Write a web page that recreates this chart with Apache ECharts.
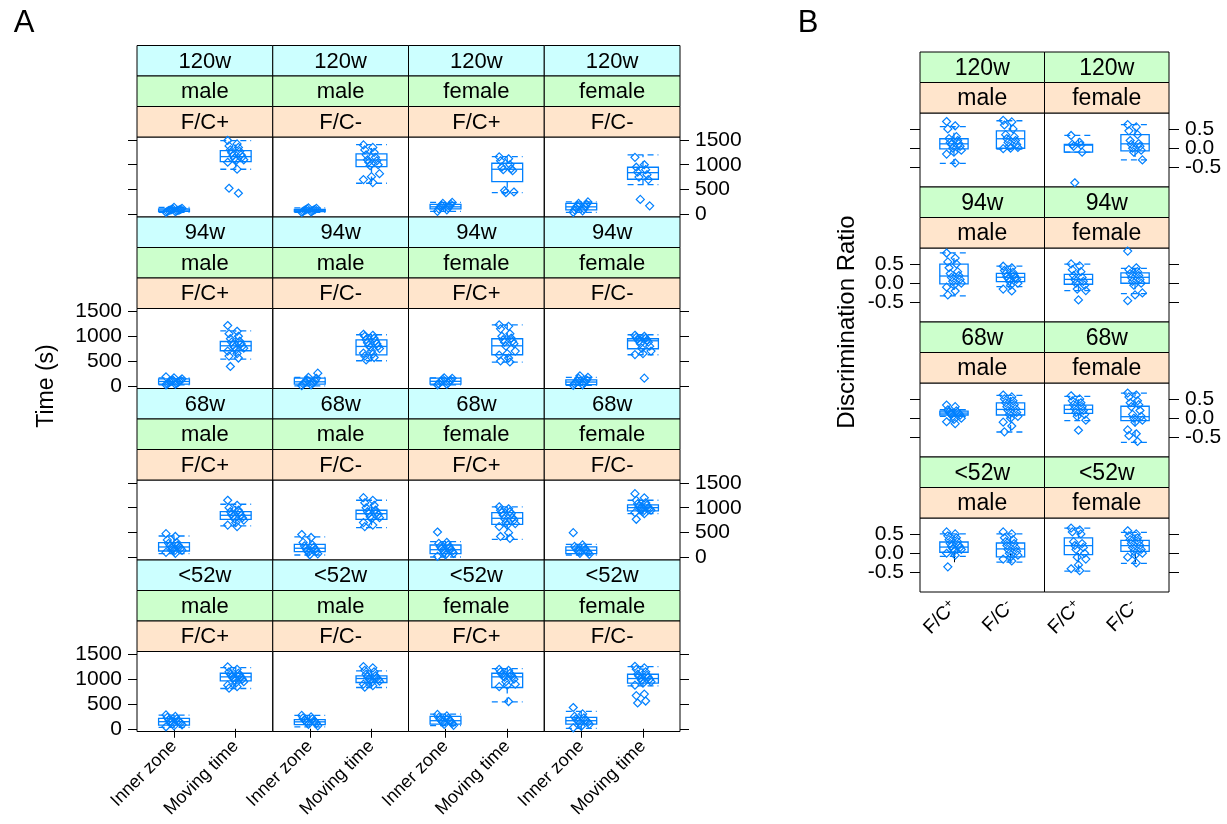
<!DOCTYPE html>
<html>
<head>
<meta charset="utf-8">
<script src="https://cdn.jsdelivr.net/npm/echarts@6/dist/echarts.min.js"></script>
<style>
  html, body { margin: 0; padding: 0; background: #fff; }
  #chart { width: 1227px; height: 824px; }
</style>
</head>
<body>
<div id="chart"></div>
<script>
// ---------------- Panel A: time in the inner zone and moving time ----------------
const ageRows = ['120w', '94w', '68w', '<52w'];
const timeSex = ['male', 'male', 'female', 'female'];
const timeCond = ['F/C+', 'F/C-', 'F/C+', 'F/C-'];
const timeMeasures = ['Inner zone', 'Moving time'];
const timeTicks = [0, 500, 1000, 1500];

// box statistics: [lower whisker, Q1, median, Q3, upper whisker], one entry per column
const box120wInner = [[40, 60, 85, 110, 140], [40, 55, 80, 100, 130], [60, 110, 150, 200, 240], [40, 90, 150, 220, 250]];
const box120wMoving = [[909, 1063, 1164, 1285, 1487], [626, 962, 1097, 1218, 1406], [437, 659, 909, 1030, 1164], [600, 707, 840, 949, 1198]];
const box94wInner = [[20, 32, 87, 141, 160], [0, 32, 80, 153, 170], [20, 32, 90, 153, 160], [10, 22, 75, 120, 170]];
const box94wMoving = [[538, 707, 807, 894, 1110], [505, 625, 794, 928, 1030], [477, 626, 807, 949, 1231], [626, 747, 908, 949, 1030]];
const box68wInner = [[73, 127, 208, 295, 430], [46, 113, 182, 262, 410], [6, 73, 153, 248, 315], [46, 73, 141, 208, 262]];
const box68wMoving = [[632, 767, 848, 921, 1070], [598, 767, 880, 949, 1151], [363, 666, 787, 900, 1016], [880, 935, 1002, 1056, 1151]];
const box52wInner = [[28, 75, 143, 209, 276], [40, 82, 140, 183, 270], [62, 95, 163, 249, 296], [8, 95, 163, 229, 350]];
const box52wMoving = [[813, 968, 1048, 1121, 1235], [833, 934, 1014, 1068, 1169], [545, 833, 1048, 1121, 1215], [867, 920, 1014, 1101, 1255]];

// individual animals (seconds)
const pts120wInner = [
  [40, 55, 60, 70, 75, 80, 85, 90, 95, 100, 110, 120, 140],
  [40, 50, 60, 70, 80, 85, 90, 100, 110, 120, 130],
  [60, 90, 110, 130, 150, 160, 180, 200, 220, 240],
  [40, 70, 90, 110, 130, 150, 170, 200, 220, 250]];
const pts120wMoving = [
  [1490, 1420, 1380, 1350, 1300, 1270, 1240, 1200, 1180, 1160, 1130, 1100, 1080, 1050, 910, 525, 424],
  [1400, 1350, 1300, 1250, 1200, 1150, 1100, 1080, 1050, 1000, 980, 820, 760, 700, 640],
  [1160, 1120, 1080, 1000, 950, 920, 900, 880, 480, 450, 437],
  [1150, 1000, 950, 900, 850, 800, 750, 700, 300, 170]];
const pts94wInner = [
  [20, 30, 40, 50, 60, 70, 80, 90, 100, 110, 120, 140, 160, 180],
  [0, 20, 40, 50, 60, 70, 80, 100, 120, 150, 170, 255],
  [20, 30, 40, 60, 80, 90, 100, 110, 130, 150, 160],
  [10, 20, 40, 60, 70, 80, 100, 120, 150, 170, 200]];
const pts94wMoving = [
  [1217, 1100, 1050, 1000, 950, 900, 880, 850, 820, 800, 780, 760, 720, 700, 650, 600, 560, 390],
  [1040, 1020, 1000, 960, 930, 900, 870, 850, 820, 800, 780, 750, 700, 660, 640, 600, 570, 520],
  [1230, 1200, 1150, 1050, 1000, 960, 930, 900, 880, 850, 800, 700, 650, 620, 560, 500, 480],
  [1020, 1000, 980, 960, 940, 920, 900, 880, 850, 800, 760, 700, 650, 630, 154]];
const pts68wInner = [
  [477, 420, 350, 300, 280, 250, 230, 210, 200, 180, 160, 140, 120, 100, 80],
  [460, 400, 300, 250, 230, 200, 180, 160, 140, 120, 100, 70, 50],
  [510, 300, 280, 250, 220, 200, 180, 160, 140, 120, 100, 80, 50, 20],
  [497, 250, 220, 200, 180, 160, 140, 130, 120, 100, 80, 60]];
const pts68wMoving = [
  [1151, 1050, 1000, 950, 920, 900, 870, 850, 830, 800, 780, 750, 700, 650, 620],
  [1204, 1150, 1100, 1050, 1000, 950, 920, 900, 880, 860, 820, 800, 780, 700, 650, 620],
  [1020, 980, 950, 920, 900, 880, 850, 800, 780, 750, 700, 680, 650, 620, 497, 420, 380],
  [1284, 1200, 1150, 1100, 1080, 1050, 1030, 1000, 990, 980, 960, 950, 920, 900, 880, 767]];
const pts52wInner = [
  [280, 250, 230, 200, 180, 160, 150, 140, 130, 120, 100, 80, 60, 40],
  [270, 240, 220, 200, 180, 160, 150, 140, 130, 110, 90, 60],
  [290, 260, 230, 210, 190, 170, 160, 150, 130, 110, 90, 70],
  [430, 300, 250, 220, 200, 180, 170, 160, 150, 130, 110, 90, 50, 20]];
const pts52wMoving = [
  [1250, 1200, 1150, 1120, 1100, 1080, 1060, 1040, 1020, 1000, 980, 950, 920, 880, 850, 820],
  [1255, 1230, 1180, 1150, 1100, 1070, 1050, 1030, 1010, 1000, 980, 960, 930, 900, 870, 840],
  [1200, 1180, 1150, 1120, 1100, 1080, 1060, 1050, 1040, 1000, 950, 900, 880, 850, 550],
  [1260, 1230, 1200, 1150, 1100, 1080, 1060, 1040, 1020, 1000, 980, 950, 920, 880, 700, 670, 560, 520]];

// ---------------- Panel B: discrimination ratio ----------------
const ratioSex = ['male', 'female'];
const ratioCond = ['F/C+', 'F/C-'];
const ratioTicks = [-0.5, 0, 0.5];

// [lower whisker, Q1, median, Q3, upper whisker]; per sex: [F/C+, F/C-]
const box120wRatio = [[[-0.39, -0.016, 0.114, 0.245, 0.56], [-0.02, 0.0, 0.245, 0.45, 0.71]],
                      [[-0.1, -0.1, 0.08, 0.1, 0.33], [-0.3, -0.07, 0.114, 0.35, 0.61]]];
const box94wRatio = [[[-0.326, -0.017, 0.187, 0.495, 0.785], [-0.087, 0.04, 0.154, 0.257, 0.44]],
                     [[-0.19, -0.026, 0.1, 0.23, 0.495], [-0.27, 0.0, 0.154, 0.27, 0.385]]];
const box68wRatio = [[[0.05, 0.084, 0.134, 0.185, 0.22], [-0.355, 0.084, 0.228, 0.395, 0.59]],
                     [[-0.06, 0.126, 0.228, 0.337, 0.565], [-0.62, -0.06, 0.04, 0.31, 0.65]]];
const box52wRatio = [[[-0.08, 0.026, 0.16, 0.29, 0.5], [-0.23, -0.094, 0.112, 0.265, 0.5]],
                     [[-0.46, -0.034, 0.197, 0.395, 0.65], [-0.26, 0.05, 0.197, 0.335, 0.54]]];

const pts120wRatio = [
  [[0.69, 0.58, 0.5, 0.3, 0.25, 0.2, 0.15, 0.12, 0.1, 0.05, 0.0, -0.05, -0.1, -0.15, -0.38],
   [0.72, 0.68, 0.6, 0.5, 0.35, 0.3, 0.25, 0.2, 0.15, 0.1, 0.05, 0.02, 0.0, -0.01]],
  [[0.33, 0.15, 0.1, 0.08, 0.05, -0.1, -0.89],
   [0.61, 0.55, 0.45, 0.35, 0.2, 0.12, 0.1, 0.05, 0.0, -0.05, -0.1, -0.3]]];
const pts94wRatio = [
  [[0.78, 0.65, 0.55, 0.5, 0.4, 0.3, 0.25, 0.2, 0.15, 0.1, 0.05, 0.0, -0.05, -0.1, -0.2, -0.3],
   [0.44, 0.4, 0.33, 0.28, 0.25, 0.2, 0.18, 0.15, 0.12, 0.1, 0.05, 0.0, -0.05, -0.15, -0.2]],
  [[0.5, 0.45, 0.35, 0.3, 0.2, 0.15, 0.1, 0.05, 0.0, -0.05, -0.15, -0.19, -0.43],
   [0.83, 0.4, 0.35, 0.3, 0.25, 0.2, 0.15, 0.1, 0.05, 0.0, -0.05, -0.25, -0.3, -0.45]]];
const pts68wRatio = [
  [[0.34, 0.3, 0.22, 0.19, 0.16, 0.15, 0.13, 0.12, 0.1, 0.08, 0.05, 0.0, -0.03, -0.09, -0.14],
   [0.6, 0.55, 0.5, 0.45, 0.4, 0.35, 0.3, 0.25, 0.2, 0.15, 0.1, 0.05, 0.0, -0.1, -0.2, -0.35]],
  [[0.58, 0.5, 0.45, 0.4, 0.35, 0.3, 0.25, 0.2, 0.15, 0.1, 0.05, -0.05, -0.31],
   [0.65, 0.6, 0.55, 0.45, 0.4, 0.35, 0.3, 0.2, 0.1, 0.05, 0.0, -0.05, -0.1, -0.3, -0.4, -0.45, -0.6]]];
const pts52wRatio = [
  [[0.55, 0.5, 0.45, 0.4, 0.35, 0.3, 0.25, 0.2, 0.18, 0.15, 0.12, 0.1, 0.05, 0.0, -0.05, -0.35],
   [0.55, 0.5, 0.4, 0.35, 0.3, 0.25, 0.2, 0.15, 0.1, 0.05, 0.0, -0.05, -0.1, -0.15, -0.2]],
  [[0.65, 0.6, 0.55, 0.5, 0.3, 0.25, 0.2, 0.15, 0.1, 0.0, -0.1, -0.15, -0.3, -0.4, -0.45],
   [0.58, 0.5, 0.45, 0.4, 0.35, 0.3, 0.25, 0.2, 0.15, 0.1, 0.05, 0.0, -0.05, -0.1, -0.25]]];

// ---------------- drawing ----------------
const FONT = '"Liberation Sans", Arial, Helvetica, sans-serif';
const BLUE = '#0080ff';
const STRIP_AGE = '#ccffff', STRIP_SEX = '#ccffcc', STRIP_COND = '#ffe5cc';

const timeBoxes = [[box120wInner, box120wMoving], [box94wInner, box94wMoving], [box68wInner, box68wMoving], [box52wInner, box52wMoving]];
const timePts = [[pts120wInner, pts120wMoving], [pts94wInner, pts94wMoving], [pts68wInner, pts68wMoving], [pts52wInner, pts52wMoving]];
const ratioBoxes = [box120wRatio, box94wRatio, box68wRatio, box52wRatio];
const ratioPts = [pts120wRatio, pts94wRatio, pts68wRatio, pts52wRatio];

const grids = [], xAxes = [], yAxes = [], series = [], graphics = [];

// small deterministic horizontal spread so overlapping animals stay visible
function jitter(i) { return (((i * 7) % 13) - 6) / 6 * 0.13; }

function renderBox(params, api) {
  const x = api.value(0);
  const lo = api.value(1), q1 = api.value(2), md = api.value(3), q3 = api.value(4), hi = api.value(5);
  const h = 0.25;
  const tl = api.coord([x - h, q3]), br = api.coord([x + h, q1]);
  const line = (a, b, dashed) => ({
    type: 'line',
    shape: { x1: a[0], y1: a[1], x2: b[0], y2: b[1] },
    style: { stroke: BLUE, lineWidth: 1.3, lineDash: dashed ? [6, 4] : null }
  });
  return {
    type: 'group',
    children: [
      { type: 'rect', shape: { x: tl[0], y: tl[1], width: br[0] - tl[0], height: br[1] - tl[1] },
        style: { fill: 'none', stroke: BLUE, lineWidth: 1.3 } },
      line(api.coord([x - h, md]), api.coord([x + h, md]), false),
      line(api.coord([x, q3]), api.coord([x, hi]), true),
      line(api.coord([x, q1]), api.coord([x, lo]), true),
      line(api.coord([x - h, hi]), api.coord([x + h, hi]), true),
      line(api.coord([x - h, lo]), api.coord([x + h, lo]), true)
    ]
  };
}

function yAxisFor(i, p, labelValues, withTicks) {
  return {
    gridIndex: i, type: 'value', min: p.ymin, max: p.ymax,
    show: !!p.yPos, position: p.yPos || 'left', offset: 0,
    axisLine: { show: false }, splitLine: { show: false },
    axisTick: { show: !!p.yPos && withTicks, customValues: p.ticks, length: p.tickLen, lineStyle: { color: '#000' } },
    axisLabel: { show: !!p.yLabels, customValues: labelValues, formatter: p.yFormatter, hideOverlap: false,
      showMinLabel: true, showMaxLabel: true,
      margin: p.yMargin, fontSize: 21, fontFamily: FONT, color: '#000' }
  };
}

function addPanel(p) {
  const i = grids.length;
  grids.push({ left: p.left, top: p.top, width: p.width, height: p.height, show: true,
    borderColor: '#000', borderWidth: 1, backgroundColor: 'transparent', containLabel: false });
  const xi = xAxes.length;
  xAxes.push({
    gridIndex: i, type: 'value', min: 0.4, max: 2.6,
    axisLine: { show: false }, splitLine: { show: false },
    axisTick: { show: p.showX, customValues: [1, 2], length: 9, lineStyle: { color: '#000' } },
    axisLabel: { show: p.showX, customValues: [1, 2], rotate: 45, margin: 12, hideOverlap: false,
      formatter: p.xFormatter, rich: p.xRich,
      fontSize: p.xFontSize, fontFamily: FONT, color: '#000' }
  });
  const yi = yAxes.length;
  // tightly spaced labels are split over two coincident axes so none of them gets dropped
  const groups = p.labelGroups || [p.ticks];
  groups.forEach((vals, g) => yAxes.push(yAxisFor(i, p, vals, g === 0)));
  series.push({
    type: 'custom', xAxisIndex: xi, yAxisIndex: yi, renderItem: renderBox, silent: true, z: 3,
    data: p.boxes.map((b, g) => [g + 1].concat(b))
  });
  const pts = [];
  p.points.forEach((arr, g) => arr.forEach((v, k) => pts.push([g + 1 + jitter(k), v])));
  series.push({
    type: 'scatter', xAxisIndex: xi, yAxisIndex: yi, data: pts, silent: true, z: 4,
    symbol: 'diamond', symbolSize: 8,
    itemStyle: { color: 'rgba(255,255,255,0)', borderColor: BLUE, borderWidth: 1.2, opacity: 1 }
  });
}

function addStrip(x, y, w, h, fill, label, size) {
  graphics.push({ type: 'rect', shape: { x: x, y: y, width: w, height: h },
    style: { fill: fill, stroke: '#000', lineWidth: 1 }, z: 1 });
  graphics.push({ type: 'text', x: x + w / 2, y: y + h / 2 + 1, z: 2,
    style: { text: label, align: 'center', verticalAlign: 'middle', fontSize: size, fontFamily: FONT, fill: '#000' } });
}

// layout of panel A
const A_LEFT = 137, A_W = 135.75, A_TOP = 45.5, A_ROW = 171.5, A_STRIP = 30.5, A_PLOT = 80;
ageRows.forEach((age, r) => {
  const stripTop = A_TOP + r * A_ROW;
  const plotTop = stripTop + 3 * A_STRIP;
  for (let c = 0; c < 4; c++) {
    const left = A_LEFT + c * A_W;
    addStrip(left, stripTop, A_W, A_STRIP, STRIP_AGE, age, 22);
    addStrip(left, stripTop + A_STRIP, A_W, A_STRIP, STRIP_SEX, timeSex[c], 22);
    addStrip(left, stripTop + 2 * A_STRIP, A_W, A_STRIP, STRIP_COND, timeCond[c], 22);
    const edge = c === 0 ? 'left' : (c === 3 ? 'right' : null);
    addPanel({
      left: left, top: plotTop, width: A_W, height: A_PLOT,
      ymin: -55, ymax: 1560, ticks: timeTicks, tickLen: 9,
      yPos: edge, yLabels: (edge === 'left' && r % 2 === 1) || (edge === 'right' && r % 2 === 0),
      yMargin: 15, yFormatter: v => String(v),
      showX: r === 3, xFontSize: 18, xFormatter: v => timeMeasures[Math.round(v) - 1],
      boxes: [timeBoxes[r][0][c], timeBoxes[r][1][c]],
      points: [timePts[r][0][c], timePts[r][1][c]]
    });
  }
});

// layout of panel B
const B_LEFT = 920, B_W = 124.5, B_TOP = 52, B_ROW = 135, B_STRIP = 30.5, B_PLOT = 74;
ageRows.forEach((age, r) => {
  const stripTop = B_TOP + r * B_ROW;
  const plotTop = stripTop + 2 * B_STRIP;
  for (let c = 0; c < 2; c++) {
    const left = B_LEFT + c * B_W;
    addStrip(left, stripTop, B_W, B_STRIP, STRIP_SEX, age, 23);
    addStrip(left, stripTop + B_STRIP, B_W, B_STRIP, STRIP_COND, ratioSex[c], 23);
    const edge = c === 0 ? 'left' : 'right';
    addPanel({
      left: left, top: plotTop, width: B_W, height: B_PLOT,
      ymin: -1.0, ymax: 0.91, ticks: ratioTicks, tickLen: 10,
      labelGroups: [[ratioTicks[0], ratioTicks[2]], [ratioTicks[1]]],
      yPos: edge, yLabels: (edge === 'left' && r % 2 === 1) || (edge === 'right' && r % 2 === 0),
      yMargin: 16, yFormatter: v => v.toFixed(1),
      showX: r === 3, xFontSize: 18,
      xFormatter: v => (Math.round(v) === 1 ? '{b|F/C}{s|+}' : '{b|F/C}{s|-}'),
      xRich: { b: { fontSize: 19, fontFamily: FONT, color: '#000' },
               s: { fontSize: 13, fontFamily: FONT, color: '#000', verticalAlign: 'top', padding: [0, 0, 8, 0] } },
      boxes: ratioBoxes[r][c],
      points: ratioPts[r][c]
    });
  }
});

// panel letters and axis titles
graphics.push({ type: 'text', x: 24, y: 23, style: { text: 'A', align: 'center', verticalAlign: 'middle', fontSize: 31, fontFamily: FONT, fill: '#000' } });
graphics.push({ type: 'text', x: 808, y: 23, style: { text: 'B', align: 'center', verticalAlign: 'middle', fontSize: 31, fontFamily: FONT, fill: '#000' } });
graphics.push({ type: 'text', x: 47, y: 386, rotation: Math.PI / 2,
  style: { text: 'Time (s)', align: 'center', verticalAlign: 'middle', fontSize: 23, fontFamily: FONT, fill: '#000' } });
graphics.push({ type: 'text', x: 847, y: 322, rotation: Math.PI / 2,
  style: { text: 'Discrimination Ratio', align: 'center', verticalAlign: 'middle', fontSize: 24, fontFamily: FONT, fill: '#000' } });

const chart = echarts.init(document.getElementById('chart'), null, { renderer: 'canvas' });
chart.setOption({
  animation: false,
  backgroundColor: '#fff',
  grid: grids,
  xAxis: xAxes,
  yAxis: yAxes,
  series: series,
  graphic: { elements: graphics }
});
</script>
</body>
</html>
